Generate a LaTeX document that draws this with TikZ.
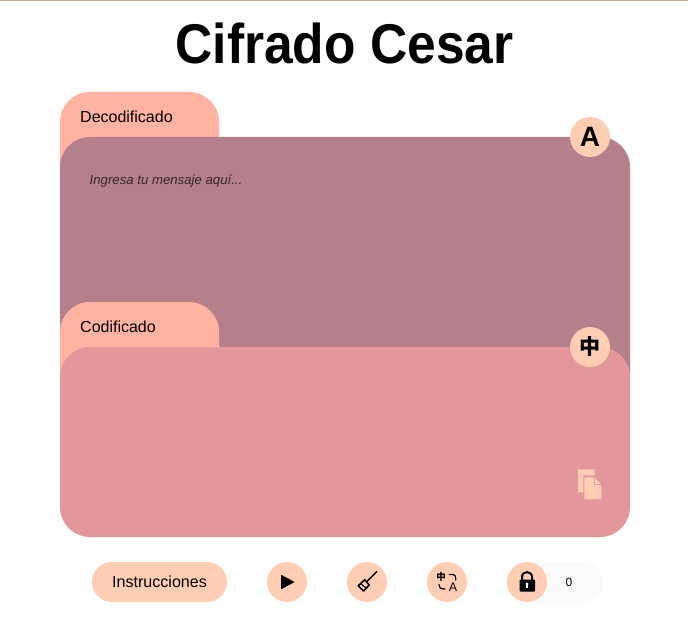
\documentclass[tikz,border=0pt]{standalone}
\usepackage{fontspec}
\setmainfont{Liberation Sans}
\newfontfamily\cjkfont{Noto Sans CJK SC}
\definecolor{pagebg}{HTML}{FEFEFE}
\definecolor{topline}{HTML}{C9A79F}
\definecolor{tabc}{HTML}{FFB3A0}
\definecolor{panelA}{HTML}{B4808B}
\definecolor{panelB}{HTML}{E4979B}
\definecolor{peach}{HTML}{FFCDB2}
\definecolor{pillbg}{HTML}{FAFAFA}
\tikzset{
  x=1pt,y=-1pt,
  tabbox/.style={fill=tabc,draw=none},
  badge/.style={circle,fill=peach,draw=none,minimum size=40pt,inner sep=0pt},
  lbl/.style={anchor=west,inner sep=0pt,font=\fontsize{16}{18}\selectfont,text=black},
  ico/.style={fill=black,draw=none}
}
\begin{document}
\begin{tikzpicture}
\useasboundingbox (0,0) rectangle (688,623);
\fill[pagebg] (0,0) rectangle (688,623);
\fill[topline] (0,0) rectangle (688,1);
\node[anchor=center,inner sep=0pt,font=\fontsize{56}{60}\selectfont\bfseries] (title) at (344.5,43.5) {\addfontfeature{FakeStretch=0.92}Cifrado Cesar};
% top tab and panel
\fill[tabbox,rounded corners=30pt] (60,92) rectangle (219,200);
\fill[panelA,rounded corners=30pt] (60,137) rectangle (630,400);
\node[lbl] (dec) at (80,116.5) {Decodificado};
\node[anchor=west,inner sep=0pt,font=\fontsize{13.2}{16}\selectfont\itshape,text=black!70!panelA] (ph) at (89.5,181) {Ingresa tu mensaje aquí...};
% lower tab and panel
\fill[tabbox,rounded corners=30pt] (60,302) rectangle (219,410);
\fill[panelB,rounded corners=30pt] (60,347) rectangle (630,537);
\node[lbl] (cod) at (80,326.5) {Codificado};
% language badges
\node[badge] (bA) at (590,137) {};
\node[inner sep=0pt,font=\fontsize{28}{30}\selectfont\bfseries] (bAt) at (590,137) {A};
\node[badge] (bZ) at (590,347) {};
\node[inner sep=0pt,font=\cjkfont\bfseries\fontsize{21}{24}\selectfont] (bZt) at (590,346.5) {中};
% copy icon
\fill[peach] (578,469.3) -- (594.7,469.3) -- (594.7,475.3) -- (583.3,475.3) -- (583.3,492.3) -- (578,492.3) -- cycle;
\fill[peach] (584.3,477.3) -- (594,477.3) -- (594,485) -- (601.3,485) -- (601.3,499.3) -- (584.3,499.3) -- cycle;
\fill[peach] (595,478) -- (600.7,484) -- (595,484) -- cycle;
% bottom bar
\fill[pillbg,rounded corners=20pt] (507,562) rectangle (603,602);
\node[fill=peach,rounded corners=20pt,minimum width=135pt,minimum height=40pt,inner sep=0pt,font=\fontsize{16.1}{18}\selectfont] (instr) at (159.5,582) {Instrucciones};
\node[badge] (play) at (287,582) {};
\node[badge] (broom) at (367,582) {};
\node[badge] (trans) at (447,582) {};
\node[badge] (lock) at (527,582) {};
\node[inner sep=0pt,font=\fontsize{12}{14}\selectfont] (count) at (569,582.5) {0};
% play
\fill[black] (281.5,575.5) -- (293.5,582) -- (281.5,588.5) -- cycle;
\draw[black,line width=1pt,line join=round] (281.5,575.5) -- (293.5,582) -- (281.5,588.5) -- cycle;
% broom
\draw[black,line width=1.5pt,line cap=round] (376.7,571.7) -- (366.7,581.7);
\draw[black,line width=1.6pt,line join=round] (358.3,585.7) -- (364.7,579.8) -- (369.3,585) -- (363.5,591) -- cycle;
\draw[black,line width=1.1pt] (360.8,583.6) -- (366.3,588.3);
% translate icon
\node[inner sep=0pt,font=\cjkfont\bfseries\fontsize{9.5}{10}\selectfont] (trz) at (441,577) {中};
\node[inner sep=0pt,font=\fontsize{12.5}{13}\selectfont] (tra) at (453,587) {A};
\draw[black,line width=1.2pt,line cap=round] (449.5,574.5) -- (453,574.5) .. controls (455,574.5) and (455.7,576) .. (455.7,580);
\draw[black,line width=1.2pt,line cap=round] (439,584.5) .. controls (439,587.5) and (440,589) .. (445,589);
% lock
\draw[black,line width=2pt] (522,581) -- (522,577) .. controls (522,570.5) and (532,570.5) .. (532,577) -- (532,581);
\fill[black,rounded corners=1pt] (519.5,579.5) rectangle (535,591.5);
\fill[white] (526.3,584) rectangle (527.7,588);
\fill[white] (527,584) circle[radius=1.6pt];
\end{tikzpicture}
\end{document}
